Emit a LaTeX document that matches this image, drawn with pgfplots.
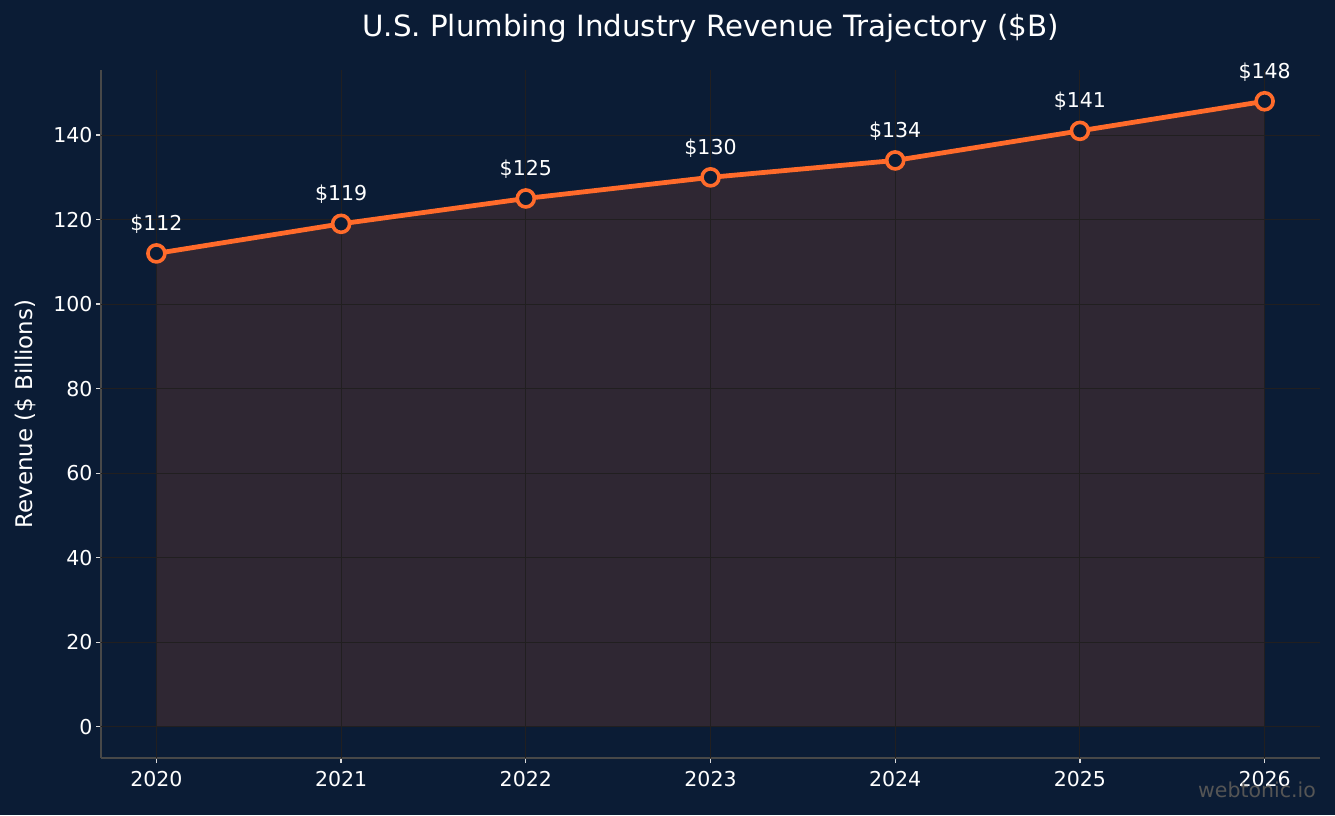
\documentclass[border=0pt]{standalone}
\usepackage{pgfplots}
\pgfplotsset{compat=1.18}
\usepackage{fontspec}
\setmainfont{DejaVu Sans}

\definecolor{bgnavy}{RGB}{11,28,53}
\definecolor{lineorange}{RGB}{255,107,43}
\definecolor{spinegray}{RGB}{72,72,72}
\definecolor{gridgray}{RGB}{33,31,32}
\definecolor{tickwhite}{RGB}{220,220,220}
\definecolor{markgray}{RGB}{85,85,85}

\pgfplotstableread{
year revenue
2020 112
2021 119
2022 125
2023 130
2024 134
2025 141
2026 148
}\revenuedata

\begin{document}
\begin{tikzpicture}[x=1pt,y=1pt]
% page background
\fill[bgnavy] (-101,-57) rectangle (1234,758);
\begin{axis}[
  at={(0,0)}, anchor=south west,
  scale only axis, width=1219pt, height=688pt,
  xmin=2019.7, xmax=2026.3, ymin=-7.4, ymax=155.4,
  axis lines*=left,
  axis line style={spinegray, line width=1.6pt},
  xtick={2020,2021,2022,2023,2024,2025,2026},
  ytick={0,20,40,60,80,100,120,140},
  /pgf/number format/assume math mode=true,
  xticklabel style={/pgf/number format/1000 sep={}, yshift=-5pt},
  tick label style={font=\fontsize{20.5}{24}\selectfont, text=white},
  tick align=outside, major tick length=5pt,
  tick style={tickwhite, line width=1.3pt},
  title={U.S. Plumbing Industry Revenue Trajectory (\$B)},
  title style={at={(0.5,1)}, anchor=base, yshift=27pt, inner sep=0pt,
    font=\fontsize{29.3}{34}\selectfont, text=white},
  ylabel={Revenue (\$ Billions)},
  ylabel style={at={(axis description cs:-0.0623,0.5)}, anchor=center,
    inner sep=0pt, font=\fontsize{22.9}{27}\selectfont, text=white},
  clip=false,
]
% shaded area under the revenue line
\addplot[draw=lineorange, draw opacity=0.15, fill=lineorange, fill opacity=0.15]
  table[x=year, y=revenue] {\revenuedata} \closedcycle;
% grid, drawn above the shaded area and below the line
\pgfplotsinvokeforeach{2020,2021,2022,2023,2024,2025,2026}{
  \draw[gridgray, line width=1.1pt] (axis cs:#1,-7.4) -- (axis cs:#1,155.4);
}
\pgfplotsinvokeforeach{0,20,40,60,80,100,120,140}{
  \draw[gridgray, line width=1.1pt] (axis cs:2019.7,#1) -- (axis cs:2026.3,#1);
}
% revenue line with hollow markers and value labels
\addplot[lineorange, line width=4.8pt, mark=*, mark size=8.5pt,
  mark options={fill=bgnavy, draw=lineorange, line width=3.6pt},
  nodes near coords={\$\pgfmathprintnumber[fixed,precision=0]{\pgfplotspointmeta}},
  every node near coord/.append style={anchor=base, yshift=23pt, text=white,
    font=\fontsize{20.5}{24}\selectfont, inner sep=0pt}]
  table[x=year, y=revenue] {\revenuedata};
\end{axis}
\node[anchor=base east, text=markgray, font=\fontsize{20.5}{24}\selectfont, inner sep=0pt]
  at (1215,-39) {webtonic.io};
\end{tikzpicture}
\end{document}
